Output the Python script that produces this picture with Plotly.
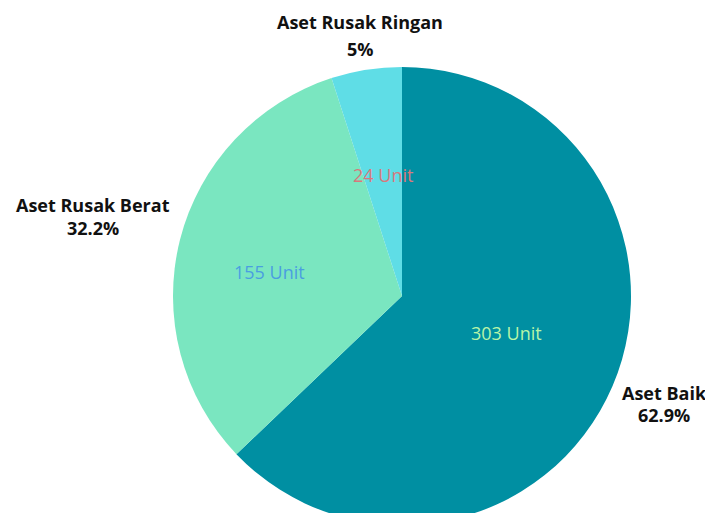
import plotly.graph_objects as go

labels = ["Aset Baik", "Aset Rusak Berat", "Aset Rusak Ringan"]
values = [303, 155, 24]
slice_colors = ["#008fa2", "#7ae6c0", "#5fdde6"]
text_colors = ["#b8f5a8", "#4a9ee0", "#d9787c"]
percent_labels = ["62.9%", "32.2%", "5%"]

# figure size (page has an 8px body offset, pie is cut off at the bottom)
W, H = 713, 530
cx, cy, r = 394, 288, 229

fig = go.Figure(go.Pie(
    labels=labels,
    values=values,
    sort=False,
    direction="clockwise",
    rotation=0,
    marker=dict(colors=slice_colors, line=dict(width=0)),
    textinfo="none",
    hoverinfo="label+value+percent",
    showlegend=False,
    domain=dict(x=[(cx - r) / W, (cx + r) / W], y=[1 - (cy + r) / H, 1 - (cy - r) / H]),
))

# inside value labels
inner_pos = [(498, 325), (261, 264), (375, 167)]
for val, col, (px, py) in zip(values, text_colors, inner_pos):
    fig.add_annotation(
        x=px / W, y=1 - py / H, xref="paper", yref="paper",
        xanchor="center", yanchor="middle",
        text=f"{val} Unit", showarrow=False,
        font=dict(family="Open Sans", size=18, color=col),
    )

# outside category labels: (x, name line y, percent line y)
ann_pos = [(656, 385, 407), (85, 197, 220), (352, 14, 41)]
bold_font = dict(family="Open Sans", size=18, color="#111111", weight=800)
for lab, pct, (px, py1, py2) in zip(labels, percent_labels, ann_pos):
    for txt, py in ((lab, py1), (pct, py2)):
        fig.add_annotation(
            x=px / W, y=1 - py / H, xref="paper", yref="paper",
            xanchor="center", yanchor="middle",
            text=f"<b>{txt}</b>", showarrow=False, align="center",
            font=bold_font,
        )

fig.update_layout(
    width=W, height=H,
    margin=dict(l=0, r=0, t=0, b=0),
    paper_bgcolor="white", plot_bgcolor="white",
)

fig.write_html("out.html")
